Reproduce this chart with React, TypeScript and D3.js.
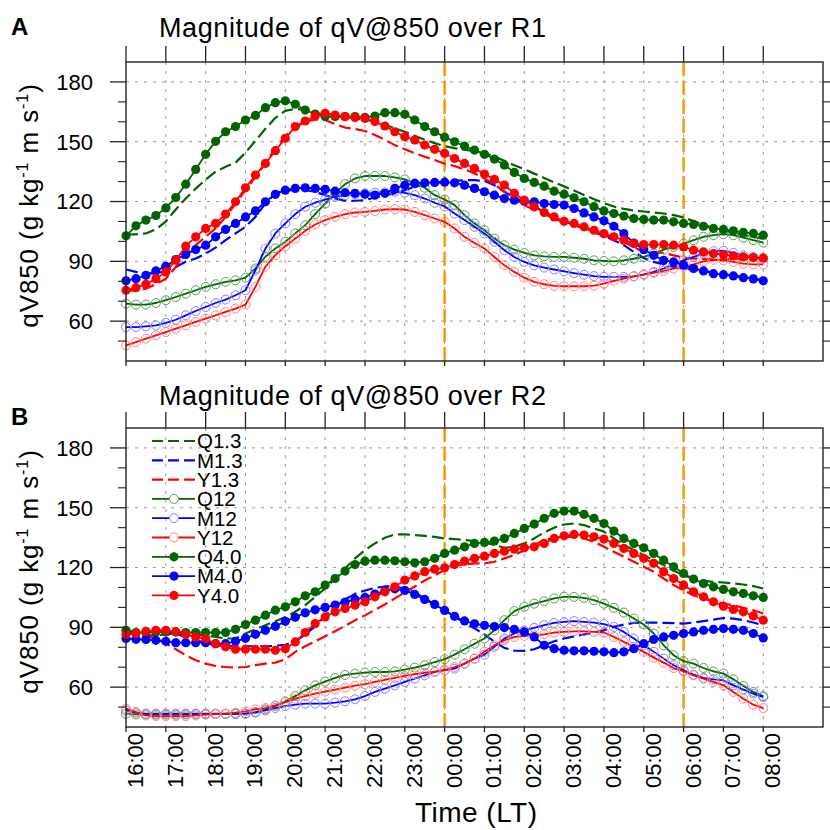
import React from 'react';
import * as d3 from 'd3';

// ---------------- data ----------------
const TIME_LABELS = ['16:00','17:00','18:00','19:00','20:00','21:00','22:00','23:00','00:00','01:00','02:00','03:00','04:00','05:00','06:00','07:00','08:00'];
const Y_MAJOR = [60, 90, 120, 150, 180];
const Y_MINOR = [50, 70, 80, 100, 110, 130, 140, 160, 170];
const SERIES_NAMES = ['Q1.3','M1.3','Y1.3','Q12','M12','Y12','Q4.0','M4.0','Y4.0'];
const MARKED_HOURS = ['00:00', '06:00'];
const STEP_HOURS = 0.25; // one value every 15 minutes from 16:00

// Panel A (R1)
const R1_Q13 = [103.5,103.5,104,106,110,116,121.5,126.5,131,135,137.5,139.5,144.5,150.5,156.5,162,165.5,166.5,166,164.5,163.5,162.8,162.3,161.8,161.2,160.1,158.5,156.8,155,153,151,149.3,147.8,146.8,146,145.2,144.2,142.6,140.4,138.2,136.2,134,131.8,129.6,127.6,125.5,123.3,121.2,119.2,117.5,116.3,115.5,115,114.5,114,113.2,112,110.2,108.3,106.8,105.5,104.3,103.2,102.2,101.5];
const R1_M13 = [85.9,84.7,83.9,83.9,85.2,87.2,89.8,91.4,93.9,96.9,100.6,104,107.3,112.3,119,124.1,125.7,125.7,125.7,124.9,123.2,121.5,120.4,120.4,120.7,122,123.2,124.1,125.7,127.4,128.7,129.4,129.9,130.4,130.7,130.7,130.4,128.2,124.9,122,119.9,117.4,114.8,112.3,110.3,108.2,106.5,104.5,102.8,100.6,98.1,94.7,91.7,89.7,88.5,87.2,86.4,85.9,85.2,84.4,83.5,82.8,82.2,81.3,80.5];
const R1_Y13 = [75.1,75.5,76.3,78.5,81.3,87.2,93.6,98.1,102.3,106.5,112.3,119,125.7,132.4,139.1,146.7,152.9,157.1,160.1,161.2,160.9,158.9,157.1,156.4,155.4,153.4,150.9,148.3,146.2,144.2,142.5,140.8,139,137.8,136.1,134.1,131.6,128.7,124.9,121.5,118.2,115.7,113.7,111.5,109.5,108.2,106.5,104.8,103.1,101.4,99.7,97.2,94.7,94.2,94.2,93,91.8,91.4,91.2,91,91,91.2,91.2,91.4,91.4];
const R1_Q12 = [68.8,68.3,68.3,69.1,70.5,72.1,73.8,75.5,77.2,78.5,79.7,80.5,81.8,86.4,92.3,96.5,99.8,104,108.1,113.7,119,124.1,128.7,131.6,132.8,132.9,132.8,132.1,131.1,129.1,126.9,123.2,121,118.2,113.2,109,105.6,101.4,98.1,95.9,94.2,93,92.5,92.2,92.2,91.8,91.3,90.5,90.2,90,90.5,91.3,92.2,93.9,95.9,97.2,98.9,100.6,102.3,103.1,103.6,103.1,101.9,100.6,99.4];
const R1_M12 = [57,57,57.4,57.9,59.1,60.7,62.9,65.1,67.1,69.1,70.8,73,75.5,85.5,96.4,104,109,113.7,117.4,119.4,121,122.4,123.2,123.7,124.1,124.4,124.6,124.9,124.4,123.2,121.5,119.4,117.6,114,110.7,107.3,104,99.8,95.6,92.2,89.7,88,86.9,85.9,85,84.1,83.3,82.6,82.2,82.2,82.2,82.5,83.3,84.7,86.4,88.5,90.5,92.2,93.9,95.1,95.3,94.2,93,92.2,91.3];
const R1_Y12 = [47.8,49.5,51.2,52.9,54.5,56.2,57.9,59.6,61.3,62.9,64.6,66.3,68.3,77.2,87.3,93.1,97.6,101.4,105.3,108.5,110.7,112.3,113.7,114.5,114.8,115.3,116,116.2,116,114.8,113.2,111.5,109.8,106.5,102.3,99.2,96.4,92.2,88,84.7,81.8,79.7,78.5,77.7,77.5,77.5,77.5,77.8,78.8,80.2,81.3,82.5,83.5,84.2,85.2,86.4,87.2,88.5,90,90.8,90.5,89.7,88.8,88.5,88.5];
const R1_Q40 = [102.8,107.8,110.7,113,116.8,122,128.7,136.1,143.7,150.2,155,157.6,160.9,163.2,167.1,169.6,170.5,168.8,165.9,163.9,162.6,162.6,162.6,162.6,162.2,162.9,164.6,164.6,163.8,160.9,157.6,155,152.3,150,147.8,145.8,143.7,141.3,138.3,134.6,131.6,129.6,127.7,125.2,123.7,121.9,119.9,117.4,115.3,114,112.7,111.5,111,110.7,110.7,109.8,109,108.5,107.6,106.5,106,105.3,104.5,104,103.1];
const R1_M40 = [80.2,81.3,83,85.2,87.5,90.9,93.4,95.9,98.1,102.3,106,109,112.3,115.3,119.9,123.6,125.7,126.6,126.9,126.6,126.1,125.2,124.4,124.1,123.7,123.2,124.1,126.6,128.2,129.1,129.4,129.6,129.7,129.4,128.2,126.6,124.9,123.2,121.5,120.7,120.2,119.9,119,118.5,118.2,116.5,114.3,112.3,110.3,107.6,103.9,99.2,95.9,93,90.5,89.7,88,86.4,85.2,83.8,83.3,82.7,81.8,81.2,80.2];
const R1_Y40 = [75.5,76.8,78.5,81.3,84.7,90.6,97.6,102.3,106.5,109,113.7,119.9,126.9,133.3,139.1,145.5,151.7,157.6,160.4,162.9,164.3,163.4,162.6,162.2,161.7,160.1,157.9,155,152.5,150.9,148.3,146.2,144.2,141.6,139.1,136.6,133.8,131.1,128.3,124.1,120.7,117.4,114.5,112.3,110.1,109,107.3,105.6,103.9,102.3,100.6,98.9,98.4,98.4,98.4,98.1,97.2,95.6,94.7,93.9,93.4,92.7,92.2,91.9,91.7];

// Panel B (R2)
const R2_Q13 = [87.4,86.4,86,86,86.4,86.9,86.9,86.5,86,85.2,84.4,84.4,86.9,89,91.1,93.1,95.2,97.8,101.1,105.3,109.5,114.5,119.5,124.6,128.7,132.1,134.9,136.6,136.6,136.3,135.9,135.4,134.6,134.3,133.8,133.3,132.6,131.3,129.9,130.4,132.1,134.6,137.6,140,141.6,142.1,141.3,139.6,138,134.6,131.3,128.7,126.2,123.7,121.2,118.4,116.2,114.2,113.3,112.8,112.5,112,111.5,110.7,109.5];
const R2_M13 = [87.7,88,88,88,87.7,86.9,85.2,83.5,82.3,81,80.7,80.5,80.5,80.5,80.5,80.7,81.2,83,86.5,90.5,95.8,100.5,104,106.8,108.5,109.8,110.5,110.5,109.5,107.5,104.5,101.5,98.5,95.5,92.3,89.5,86.5,82.7,79.7,78.3,78.2,79,81,83,84.4,85.5,86.4,87.4,88.5,90.2,91.4,92.2,92.4,92.4,92.2,92.1,91.9,92.4,93.1,93.9,94.7,94.4,93.6,92.4,91.1];
const R2_Y13 = [86.9,86.4,85.7,84.4,81.8,79,76,73.5,71.8,70.6,70.1,69.8,70.1,71,71.8,72.3,74,77.7,80.5,83,85.5,88,90.8,93.5,96,98.8,101.5,104.5,107.5,110.5,113.5,116,118.8,120.9,121.5,122.1,122.1,122.9,124.6,126.2,128.7,131.3,133.8,134.9,135.4,135.4,134.6,132.9,130.4,127.9,125.4,122.9,120.4,117.9,114.5,111.2,108.6,106.1,104.4,103.1,101.9,101.1,99.8,98.6,96.9];
const R2_Q12 = [46.7,46.3,46.3,46.2,46.2,46.2,46.3,46.5,46.5,46.5,46.5,46.5,46.7,47.5,48.8,50.5,52.9,55.5,58.4,60.9,62.8,64.6,66.1,66.8,67.3,67.6,67.6,67.9,68.8,69.8,71,72.6,74,76.3,79,81.8,84.4,88.5,93.6,98.1,100.3,101.9,103.1,104.5,105.3,105.3,104.8,103.6,101.9,99.8,97.4,94.4,91.4,86.9,81,76,73,71.8,69.6,67.9,66.8,63.9,60.6,57.6,55.5];
const R2_M12 = [48.3,47.2,46.7,46.7,46.7,46.7,46.7,46.7,46.7,46.7,46.7,46.7,46.7,47.2,48.3,49.5,50.5,51.2,51.7,51.7,51.7,52.2,52.9,53.9,55.5,57.6,59.2,60.9,62.6,64.3,65.9,67.6,68.6,69.3,71.8,74.3,76.3,80.2,84.4,86.9,88.5,89.7,91.1,92.2,92.7,93.1,92.7,92.4,91.6,90.2,87.7,84.4,81,77.7,74.3,71,68.4,66.3,64.6,63.9,63.4,60.9,58.8,56.7,55];
const R2_Y12 = [49.2,47.5,45.8,45.5,45.5,45.5,45.5,45.8,46.2,46.5,46.7,47.2,47.8,48.8,49.5,50.8,52.5,54.2,55.5,56.8,57.8,58.8,59.8,60.7,61.5,62.6,63.7,64.6,65.6,66.5,67.2,67.8,68.4,70.1,71.8,74.3,77.7,81,83.5,85.2,85.7,86,86.5,87.4,87.7,88,88,87.7,87.4,85.2,82.7,80.2,77.7,74.8,72.3,69.6,67.9,65.9,64.3,62.6,60.9,57.6,54.2,51.2,49.5];
const R2_Q40 = [88.5,87.4,87.4,87.7,87.7,87.7,87.4,87.4,87.4,87.4,87.4,89,91.4,93.6,96.1,98.6,100.3,102.8,105.8,107.8,111.2,114.5,118.2,121.5,123.2,123.7,123.7,123.4,122.9,122.4,122.9,124.6,127.1,128.7,130.4,132.1,132.6,133.3,134.6,137.1,139.6,141.8,144.7,147.2,148.3,148.3,146.7,144.7,142.1,138.3,134.6,132.1,129.9,127.1,123.7,120.4,117,114.2,112,110.3,109,107.8,107,105.8,105];
const R2_M40 = [84.4,84,83.9,83.5,83,82.3,82.3,82.3,82.3,81.8,81.8,83,84.5,86.5,88.5,90.5,93,95,97.3,98.8,100,101.2,102.7,104,105,106.7,108.3,109.3,108.5,106.5,104,101.5,98.5,95.5,93.2,91.8,91,90.4,89.9,89,87.7,85.2,81,79.3,78.5,78.2,78.2,78,77.7,77.3,77.7,79.3,81.8,83.9,85.2,86,86.9,87.7,88.5,89,89.4,89,88.5,86.9,84.7];
const R2_Y40 = [86.4,86.9,88,88.5,88.5,87.7,86.4,85.2,84.4,81.8,80.2,79,79,79,79,78.5,79.3,82.7,87.4,91.9,95.2,97.8,99.4,101.1,102.8,105.3,107.8,110.3,113.7,115.8,117.9,119.2,119.9,121.5,123.2,124.6,125.7,127.1,128.2,129.2,129.9,130.4,132.1,134.6,135.9,136.6,136.3,135.4,134.3,132.1,129.6,127.1,124.6,122.1,117.9,114.5,111.2,107.8,105.3,102.8,100.6,99,97.8,95.7,93.6];

const R1 = [R1_Q13, R1_M13, R1_Y13, R1_Q12, R1_M12, R1_Y12, R1_Q40, R1_M40, R1_Y40];
const R2 = [R2_Q13, R2_M13, R2_Y13, R2_Q12, R2_M12, R2_Y12, R2_Q40, R2_M40, R2_Y40];

// ---------------- styles ----------------
const GREEN = '#006400';
const BLUE = '#0000ff';
const RED = '#ff0000';
const STYLES = [
  { color: GREEN, dash: '12,5', marker: 'none', pale: '' },
  { color: BLUE, dash: '12,5', marker: 'none', pale: '' },
  { color: RED, dash: '12,5', marker: 'none', pale: '' },
  { color: GREEN, dash: null, marker: 'open', pale: '#5a9e5a' },
  { color: BLUE, dash: null, marker: 'open', pale: '#8080ff' },
  { color: RED, dash: null, marker: 'open', pale: '#ff8080' },
  { color: GREEN, dash: null, marker: 'filled', pale: '' },
  { color: BLUE, dash: null, marker: 'filled', pale: '' },
  { color: RED, dash: null, marker: 'filled', pale: '' },
];

const FONT = '"Liberation Sans", Arial, Helvetica, sans-serif';
const LEFT = 126;
const RIGHT = 823;
const PANEL_H = 299;
const X_MAX = 17.5;
const Y_MIN = 40;
const Y_MAX = 190;

type PanelProps = {
  top: number;
  values: number[][];
  title: string;
  letter: string;
  letterY: number;
  titleY: number;
  legend: boolean;
  xLabels: boolean;
};

function Panel({ top, values, title, letter, letterY, titleY, legend, xLabels }: PanelProps) {
  const x = d3.scaleLinear().domain([0, X_MAX]).range([LEFT, RIGHT]);
  const y = d3.scaleLinear().domain([Y_MIN, Y_MAX]).range([top + PANEL_H, top]);
  const bottom = top + PANEL_H;
  const line = d3.line<number>().x((_, i) => x(i * STEP_HOURS)).y((d) => y(d));
  const hourX = (i: number) => x(i);
  const markIdx = MARKED_HOURS.map((h) => TIME_LABELS.indexOf(h));
  const midY = (top + bottom) / 2 - 6;

  return (
    <g>
      {/* panel letter & title */}
      <text x={11} y={letterY} fontFamily={FONT} fontWeight="bold" fontSize={24} fill="#000">{letter}</text>
      <text x={159} y={titleY} fontFamily={FONT} fontSize={27} fill="#000" textLength={387} lengthAdjust="spacing">{title}</text>

      {/* grid */}
      {TIME_LABELS.map((_, i) => i > 0 && (
        <line key={'gx' + i} x1={hourX(i)} x2={hourX(i)} y1={top} y2={bottom} stroke="#9a9a9a" strokeWidth={1} strokeDasharray="3,6" />
      ))}
      {Y_MAJOR.map((v) => (
        <line key={'gy' + v} x1={LEFT} x2={RIGHT} y1={y(v)} y2={y(v)} stroke="#9a9a9a" strokeWidth={1} strokeDasharray="3,6" />
      ))}

      {/* orange reference lines */}
      {markIdx.map((i) => (
        <line key={'m' + i} x1={hourX(i)} x2={hourX(i)} y1={top} y2={bottom} stroke="#ff9400" strokeWidth={2.4} strokeDasharray="14,5" />
      ))}

      {/* series */}
      {values.map((vals, s) => {
        const st = STYLES[s];
        return (
          <g key={'s' + s}>
            <path d={line(vals) || ''} fill="none" stroke={st.color} strokeWidth={st.dash ? 2.2 : 1.8}
              strokeDasharray={st.dash || undefined} strokeLinejoin="round" />
            {st.marker === 'filled' && vals.map((v, i) => (
              <circle key={i} cx={x(i * STEP_HOURS)} cy={y(v)} r={4.6} fill={st.color} />
            ))}
            {st.marker === 'open' && vals.map((v, i) => (
              <circle key={i} cx={x(i * STEP_HOURS)} cy={y(v)} r={4.5} fill="none" stroke={st.pale} strokeWidth={1} />
            ))}
          </g>
        );
      })}

      {/* frame */}
      <rect x={LEFT} y={top} width={RIGHT - LEFT} height={PANEL_H} fill="none" stroke="#222" strokeWidth={1.4} />

      {/* y ticks left & right */}
      {Y_MAJOR.map((v) => (
        <g key={'yt' + v}>
          <line x1={LEFT - 16} x2={LEFT} y1={y(v)} y2={y(v)} stroke="#222" strokeWidth={1.3} />
          <line x1={RIGHT} x2={RIGHT + 16} y1={y(v)} y2={y(v)} stroke="#222" strokeWidth={1.3} />
          <text x={93} y={y(v)} dy="0.36em" textAnchor="end" fontFamily={FONT} fontSize={22} fill="#000">{v}</text>
        </g>
      ))}
      {Y_MINOR.map((v) => (
        <g key={'ym' + v}>
          <line x1={LEFT - 8} x2={LEFT} y1={y(v)} y2={y(v)} stroke="#222" strokeWidth={1.1} />
          <line x1={RIGHT} x2={RIGHT + 8} y1={y(v)} y2={y(v)} stroke="#222" strokeWidth={1.1} />
        </g>
      ))}

      {/* x ticks top & bottom */}
      {TIME_LABELS.map((lab, i) => (
        <g key={'xt' + i}>
          <line x1={hourX(i)} x2={hourX(i)} y1={top - 16} y2={top} stroke="#222" strokeWidth={1.3} />
          <line x1={hourX(i)} x2={hourX(i)} y1={bottom} y2={bottom + 5} stroke="#222" strokeWidth={1.3} />
          {xLabels && (
            <text transform={`translate(${hourX(i) + 17},${bottom + 6}) rotate(-90)`} textAnchor="end"
              fontFamily={FONT} fontSize={22} fill="#000">{lab}</text>
          )}
        </g>
      ))}

      {/* y axis label */}
      <text transform={`translate(38,${midY}) rotate(-90)`} textAnchor="middle" fontFamily={FONT} fontSize={26}
        letterSpacing={0.9} fill="#000">
        qV850 (g kg<tspan dy={-10} fontSize={16}>-1</tspan><tspan dy={10}> m s</tspan><tspan dy={-10} fontSize={16}>-1</tspan><tspan dy={10}>)</tspan>
      </text>

      {/* legend */}
      {legend && SERIES_NAMES.map((name, s) => {
        const st = STYLES[s];
        const ly = 441 + s * 19.3;
        return (
          <g key={'lg' + s}>
            <line x1={152} x2={195} y1={ly} y2={ly} stroke={st.color} strokeWidth={st.dash ? 2.2 : 1.8}
              strokeDasharray={st.dash ? '11,5' : undefined} />
            {st.marker === 'filled' && <circle cx={174} cy={ly} r={4.6} fill={st.color} />}
            {st.marker === 'open' && <circle cx={174} cy={ly} r={4.5} fill="#fff" stroke={st.pale} strokeWidth={1} />}
            <text x={197} y={ly} dy="0.36em" fontFamily={FONT} fontSize={20.5} fill="#000">{name}</text>
          </g>
        );
      })}
    </g>
  );
}

export default function App() {
  return (
    <div style={{ position: 'absolute', left: 0, top: 0, width: 830, height: 830, background: '#fff' }}>
      <svg width={830} height={830} viewBox="0 0 830 830" style={{ display: 'block' }}>
        <rect x={0} y={0} width={830} height={830} fill="#fff" />
        <Panel top={62} values={R1} title="Magnitude of qV@850 over R1" letter="A" letterY={35} titleY={37} legend={false} xLabels={false} />
        <Panel top={428} values={R2} title="Magnitude of qV@850 over R2" letter="B" letterY={425} titleY={405} legend={true} xLabels={true} />
        <text x={476} y={822} textAnchor="middle" fontFamily={FONT} fontSize={28} fill="#000" textLength={122} lengthAdjust="spacing">Time (LT)</text>
      </svg>
    </div>
  );
}
